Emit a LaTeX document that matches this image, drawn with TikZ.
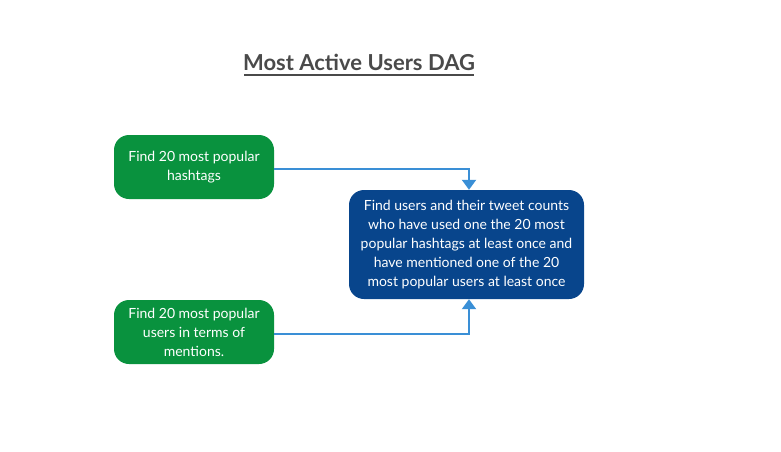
\documentclass[tikz,border=0pt]{standalone}
\usepackage{fontspec}
\setmainfont{Lato}
\usetikzlibrary{arrows.meta}

\definecolor{taskgreen}{RGB}{9,146,62}
\definecolor{taskblue}{RGB}{8,69,140}
\definecolor{linkblue}{RGB}{58,143,214}
\definecolor{titlegrey}{RGB}{74,74,74}

\tikzset{
    task/.style={rounded corners=15pt, text=white, align=center,
        font=\fontsize{14}{19}\selectfont, inner sep=0pt},
    link/.style={linkblue, line width=2pt, -{Triangle[width=14pt,length=10pt]}}
}

\begin{document}
\begin{tikzpicture}[x=1pt,y=-1pt]
    \useasboundingbox (0,0) rectangle (781,451);

    % title
    \node[font=\fontsize{22}{26}\selectfont\bfseries, text=titlegrey, inner sep=0pt]
        (title) at (359,62) {Most Active Users DAG};
    \draw[titlegrey, line width=1.2pt] (244,75) -- (474,75);

    % tasks
    \node[task, fill=taskgreen, minimum width=160pt, minimum height=64pt]
        (hashtags) at (194,167) {Find 20 most popular\\hashtags};
    \node[task, fill=taskgreen, minimum width=160pt, minimum height=64pt]
        (mentions) at (194,332) {Find 20 most popular\\users in terms of\\mentions.};
    \node[task, fill=taskblue, minimum width=235pt, minimum height=109pt]
        (users) at (466.5,244.5) {Find users and their tweet counts\\who have used one the 20 most\\popular hashtags at least once and\\have mentioned one of the 20\\most popular users at least once};

    % links
    \draw[link] ([yshift=-2pt]hashtags.east) -| ([xshift=2.5pt]users.north);
    \draw[link] ([yshift=-2pt]mentions.east) -| ([xshift=2.5pt]users.south);
\end{tikzpicture}
\end{document}
